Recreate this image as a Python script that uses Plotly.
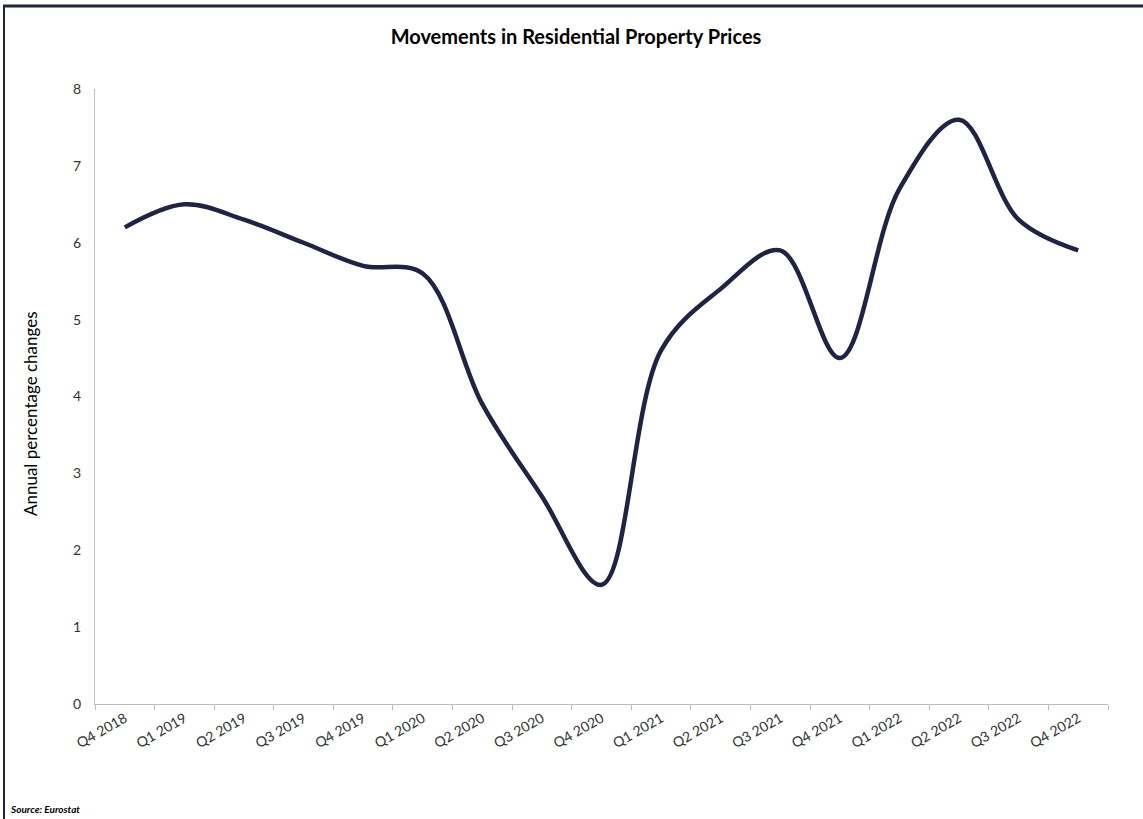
import plotly.graph_objects as go

quarters = ["Q4 2018", "Q1 2019", "Q2 2019", "Q3 2019", "Q4 2019", "Q1 2020", "Q2 2020",
            "Q3 2020", "Q4 2020", "Q1 2021", "Q2 2021", "Q3 2021", "Q4 2021", "Q1 2022",
            "Q2 2022", "Q3 2022", "Q4 2022"]
annual_change = [6.2, 6.5, 6.3, 6.0, 5.7, 5.6, 3.9, 2.7, 1.55, 4.6, 5.4, 5.9, 4.5, 6.7, 7.6, 6.3, 5.9]
y_ticks = [0, 1, 2, 3, 4, 5, 6, 7, 8]

W, H = 1143, 819
L, R, T, B = 95, 1108, 89, 704

def px(x):
    return (x - L) / (R - L)

def py(y):
    return (B - y) / (B - T)

NAVY = "#1f2346"
AXIS = "#bfbfbf"
TXT = "#333333"
FONT = "Lato, 'Open Sans', Arial, sans-serif"

fig = go.Figure()
fig.add_trace(go.Scatter(
    x=quarters, y=annual_change, mode="lines",
    line=dict(color=NAVY, width=4.5, shape="spline", smoothing=1.0),
    hoverinfo="x+y", showlegend=False,
))

fig.update_layout(
    width=W, height=H,
    margin=dict(l=L, r=W - R, t=T, b=H - B),
    paper_bgcolor="white", plot_bgcolor="white",
    font=dict(family=FONT, size=14, color=TXT),
    title=dict(text="<b>Movements in Residential Property Prices</b>",
               x=px(576), xref="paper", xanchor="center",
               y=1 - 37 / H, yref="container", yanchor="middle",
               font=dict(family=FONT, size=20, color="#000000")),
    xaxis=dict(
        type="category", range=[-0.5, len(quarters) - 0.5],
        showline=True, linecolor=AXIS, linewidth=1,
        ticks="outside", tickson="boundaries", ticklen=5, tickcolor=AXIS,
        tickangle=-30, showgrid=False, zeroline=False,
        tickfont=dict(family=FONT, size=14, color=TXT),
    ),
    yaxis=dict(
        range=[0, 8], tickvals=y_ticks,
        showline=True, linecolor=AXIS, linewidth=1,
        ticks="", showgrid=False, zeroline=False, ticklabelstandoff=10,
        tickfont=dict(family=FONT, size=14, color=TXT),
    ),
    annotations=[
        dict(text="Annual percentage changes", x=px(30), y=py(414), xref="paper", yref="paper",
             textangle=-90, showarrow=False, xanchor="center", yanchor="middle",
             font=dict(family=FONT, size=17, color="#000000")),
        dict(text="<b><i>Source: Eurostat</i></b>", x=px(8), y=py(809), xref="paper", yref="paper",
             showarrow=False, xanchor="left", yanchor="middle",
             font=dict(family=FONT, size=10, color="#000000")),
    ],
    shapes=[
        dict(type="line", xref="paper", yref="paper", x0=px(3), x1=px(1150), y0=py(6), y1=py(6),
             line=dict(color=NAVY, width=3)),
        dict(type="line", xref="paper", yref="paper", x0=px(4), x1=px(4), y0=py(5), y1=py(819),
             line=dict(color=NAVY, width=2)),
    ],
)

fig.write_html("out.html", config={"displayModeBar": False},
               post_script="document.body.style.margin='0';document.body.style.overflow='hidden';")
